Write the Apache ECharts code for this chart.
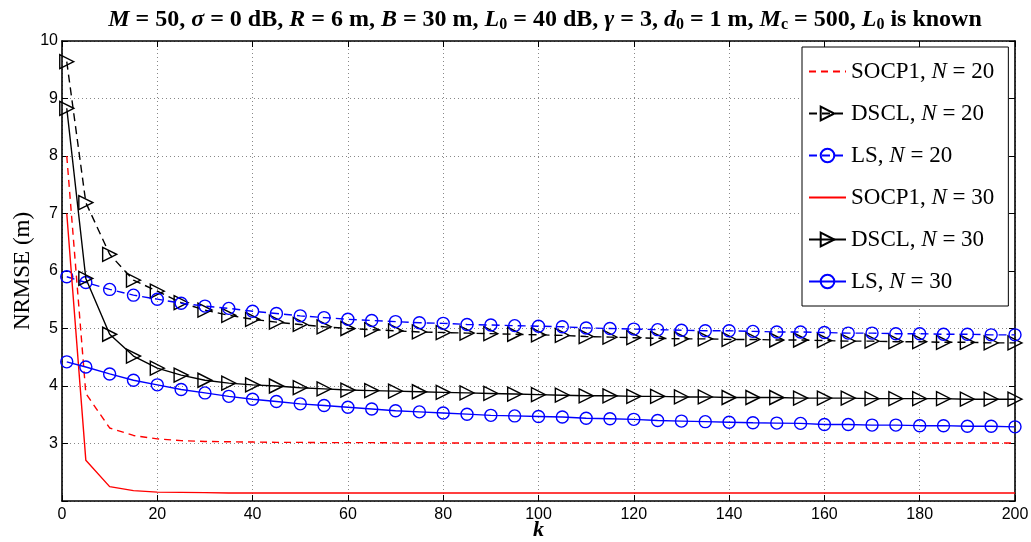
<!DOCTYPE html>
<html>
<head>
<meta charset="utf-8">
<script src="https://cdn.jsdelivr.net/npm/echarts@6/dist/echarts.min.js"></script>
<style>
  html, body { margin: 0; padding: 0; background: #fff; }
  #chart { width: 1031px; height: 542px; }
</style>
</head>
<body>
<div id="chart"></div>
<script>
// Number of time steps k
const kValues = [1, 5, 10, 15, 20, 25, 30, 35, 40, 45, 50, 55, 60, 65, 70, 75, 80, 85, 90, 95, 100,
  105, 110, 115, 120, 125, 130, 135, 140, 145, 150, 155, 160, 165, 170, 175, 180, 185, 190, 195, 200];

// NRMSE (m) for each method
const socp1N20 = [8.00, 3.87, 3.27, 3.14, 3.08, 3.05, 3.035, 3.03, 3.025, 3.02, 3.02, 3.015, 3.015, 3.015, 3.01, 3.01, 3.01, 3.01, 3.01, 3.01, 3.01,
  3.01, 3.01, 3.01, 3.01, 3.01, 3.01, 3.01, 3.01, 3.01, 3.01, 3.01, 3.01, 3.01, 3.01, 3.01, 3.01, 3.01, 3.01, 3.01, 3.01];
const dsclN20 = [9.64, 7.19, 6.29, 5.84, 5.65, 5.45, 5.32, 5.23, 5.16, 5.11, 5.07, 5.03, 5.00, 4.98, 4.96, 4.94, 4.93, 4.92, 4.91, 4.90, 4.89,
  4.88, 4.86, 4.85, 4.84, 4.83, 4.82, 4.82, 4.81, 4.81, 4.80, 4.80, 4.79, 4.78, 4.78, 4.77, 4.77, 4.76, 4.76, 4.75, 4.75];
const lsN20 = [5.90, 5.80, 5.68, 5.58, 5.51, 5.44, 5.39, 5.35, 5.30, 5.26, 5.22, 5.19, 5.16, 5.14, 5.12, 5.10, 5.09, 5.07, 5.06, 5.05, 5.04,
  5.03, 5.01, 5.00, 4.99, 4.98, 4.97, 4.96, 4.96, 4.95, 4.94, 4.94, 4.93, 4.92, 4.92, 4.91, 4.91, 4.90, 4.90, 4.89, 4.89];
const socp1N30 = [7.00, 2.71, 2.25, 2.18, 2.155, 2.15, 2.145, 2.14, 2.14, 2.14, 2.14, 2.14, 2.14, 2.14, 2.14, 2.14, 2.14, 2.14, 2.14, 2.14, 2.14,
  2.14, 2.14, 2.14, 2.14, 2.14, 2.14, 2.14, 2.14, 2.14, 2.14, 2.14, 2.14, 2.14, 2.14, 2.14, 2.14, 2.14, 2.14, 2.14, 2.14];
const dsclN30 = [8.83, 5.87, 4.90, 4.52, 4.31, 4.19, 4.10, 4.05, 4.02, 4.00, 3.97, 3.95, 3.93, 3.92, 3.91, 3.90, 3.89, 3.88, 3.87, 3.86, 3.85,
  3.84, 3.83, 3.83, 3.82, 3.82, 3.81, 3.81, 3.80, 3.80, 3.80, 3.79, 3.79, 3.79, 3.78, 3.78, 3.78, 3.78, 3.77, 3.77, 3.77];
const lsN30 = [4.42, 4.33, 4.21, 4.10, 4.02, 3.94, 3.88, 3.82, 3.77, 3.73, 3.69, 3.66, 3.63, 3.60, 3.57, 3.55, 3.53, 3.51, 3.49, 3.48, 3.47,
  3.46, 3.44, 3.43, 3.42, 3.40, 3.39, 3.38, 3.37, 3.36, 3.355, 3.35, 3.33, 3.33, 3.32, 3.32, 3.31, 3.31, 3.30, 3.30, 3.29];

// Axis ticks
const xTicks = [0, 20, 40, 60, 80, 100, 120, 140, 160, 180, 200];
const yTicks = [3, 4, 5, 6, 7, 8, 9, 10];

// Legend entries: method name and N
const methods = ['SOCP1', 'DSCL', 'LS', 'SOCP1', 'DSCL', 'LS'];
const nodeCounts = [20, 20, 20, 30, 30, 30];

const SERIF = "'Liberation Serif', 'DejaVu Serif', serif";
const SANS = "'Liberation Sans', Arial, sans-serif";

function pairs(ys) { return kValues.map((k, i) => [k, ys[i]]); }

const seriesData = [socp1N20, dsclN20, lsN20, socp1N30, dsclN30, lsN30];
const colors = ['#ff0000', '#000000', '#0000ff', '#ff0000', '#000000', '#0000ff'];
const dashed = [[7, 5], [8, 5], [8, 5], 'solid', 'solid', 'solid'];
const symbols = ['none', 'triangle', 'circle', 'none', 'triangle', 'circle'];

const series = seriesData.map((ys, i) => ({
  name: methods[i] + ', N = ' + nodeCounts[i],
  type: 'line',
  data: pairs(ys),
  symbol: symbols[i],
  symbolSize: symbols[i] === 'triangle' ? 14 : 12,
  symbolRotate: symbols[i] === 'triangle' ? -90 : 0,
  showAllSymbol: true,
  animation: false,
  lineStyle: { color: colors[i], width: 1.4, type: dashed[i] },
  // plain lines get no marker outline, so their legend icon stays a bare line
  itemStyle: {
    color: 'rgba(255,255,255,0)',
    borderColor: symbols[i] === 'none' ? 'rgba(0,0,0,0)' : colors[i],
    borderWidth: symbols[i] === 'none' ? 0 : 1.4
  },
  emphasis: { disabled: true },
  z: 2 + i
}));

const chart = echarts.init(document.getElementById('chart'));
chart.setOption({
  backgroundColor: '#fff',
  animation: false,
  title: {
    text: '{i|M} = 50, {i|σ} = 0 dB, {i|R} = 6 m, {i|B} = 30 m, {i|L}{s|0} = 40 dB, {i|γ} = 3, {i|d}{s|0} = 1 m, {i|M}{s|c} = 500, {i|L}{s|0} is known',
    left: 540, top: 1, textAlign: 'center',
    textStyle: {
      fontFamily: SERIF, fontSize: 24, fontWeight: 'bold', color: '#000',
      rich: {
        i: { fontFamily: SERIF, fontSize: 24, fontWeight: 'bold', fontStyle: 'italic', color: '#000' },
        s: { fontFamily: SERIF, fontSize: 16, fontWeight: 'bold', color: '#000', padding: [11, 0, 0, 0] }
      }
    }
  },
  legend: {
    orient: 'vertical',
    left: 802, top: 47,
    padding: [13, 14, 13, 6],
    itemGap: 19,
    itemWidth: 37, itemHeight: 17,
    backgroundColor: '#fff',
    borderColor: '#000', borderWidth: 1,
    data: series.map(s => s.name),
    formatter: name => name.replace('N =', '{i|N} ='),
    textStyle: {
      fontFamily: SERIF, fontSize: 23, color: '#000', lineHeight: 22,
      rich: { i: { fontFamily: SERIF, fontSize: 23, fontStyle: 'italic', color: '#000' } }
    }
  },
  grid: { left: 62, right: 16, top: 41, bottom: 41, outerBoundsMode: 'none' },
  xAxis: [{
    type: 'value', min: xTicks[0], max: xTicks[xTicks.length - 1], interval: 20,
    name: 'k', nameLocation: 'middle', nameGap: 18, nameMoveOverlap: false,
    nameTextStyle: { fontFamily: SERIF, fontSize: 22, fontStyle: 'italic', fontWeight: 'bold', color: '#000' },
    axisLine: { show: true, lineStyle: { color: '#000', width: 1.6 } },
    axisTick: { show: true, inside: true, length: 6, lineStyle: { color: '#000', width: 1 } },
    axisLabel: { fontFamily: SANS, fontSize: 16, color: '#000', margin: 6 },
    splitLine: { show: true, lineStyle: { color: '#888', type: [1, 3], width: 1 } }
  }, {
    type: 'value', position: 'top', min: xTicks[0], max: xTicks[xTicks.length - 1], interval: 20,
    axisLine: { show: true, onZero: false, lineStyle: { color: '#000', width: 1.6 } },
    axisTick: { show: true, inside: true, length: 6, lineStyle: { color: '#000', width: 1 } },
    axisLabel: { show: false }, splitLine: { show: false }
  }],
  yAxis: [{
    type: 'value', min: 2, max: yTicks[yTicks.length - 1], interval: 1,
    name: 'NRMSE (m)', nameLocation: 'middle', nameGap: 28, nameRotate: 90, nameMoveOverlap: false,
    nameTextStyle: { fontFamily: SERIF, fontSize: 23, color: '#000' },
    axisLine: { show: true, lineStyle: { color: '#000', width: 1.6 } },
    axisTick: { show: true, inside: true, length: 6, lineStyle: { color: '#000', width: 1 } },
    axisLabel: {
      fontFamily: SANS, fontSize: 16, color: '#000', margin: 4,
      formatter: v => (yTicks.indexOf(v) >= 0 ? String(v) : '')
    },
    splitLine: { show: true, lineStyle: { color: '#888', type: [1, 3], width: 1 } }
  }, {
    type: 'value', position: 'right', min: 2, max: yTicks[yTicks.length - 1], interval: 1,
    axisLine: { show: true, onZero: false, lineStyle: { color: '#000', width: 1.6 } },
    axisTick: { show: true, inside: true, length: 6, lineStyle: { color: '#000', width: 1 } },
    axisLabel: { show: false }, splitLine: { show: false }
  }],
  series: series
});
</script>
</body>
</html>
